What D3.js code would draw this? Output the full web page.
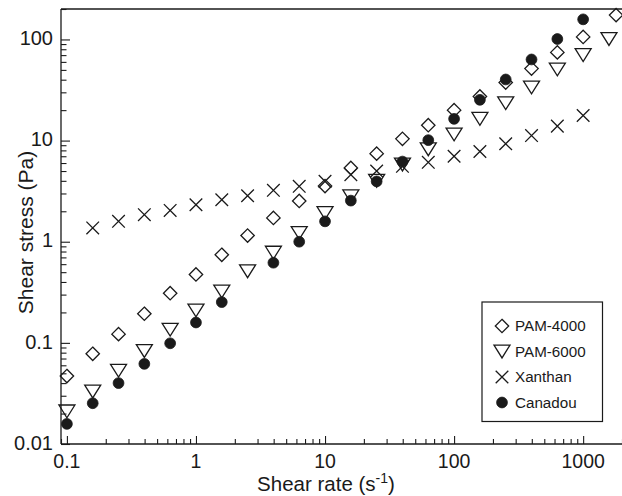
<!DOCTYPE html>
<html>
<head>
<meta charset="utf-8">
<script src="https://cdn.jsdelivr.net/npm/d3@7"></script>
<style>
  html, body { margin: 0; padding: 0; background: #fff; }
  svg { display: block; font-family: "Liberation Sans", Arial, Helvetica, sans-serif; }
</style>
</head>
<body>
<svg id="chart" width="622" height="496"></svg>
<script>
// Shear rate (1/s) and shear stress (Pa) for each fluid
const pam4000Rate   = [0.1, 0.1585, 0.2512, 0.3981, 0.631, 1, 1.585, 2.512, 3.981, 6.31, 10, 15.85, 25.12, 39.81, 63.1, 100, 158.5, 251.2, 398.1, 631, 1000, 1800];
const pam4000Stress = [0.047, 0.078, 0.122, 0.194, 0.31, 0.475, 0.743, 1.15, 1.72, 2.53, 3.55, 5.36, 7.43, 10.4, 14.2, 20.0, 27.3, 37.5, 51.5, 74.5, 106, 174];

const pam6000Rate   = [0.1, 0.1585, 0.2512, 0.3981, 0.631, 1, 1.585, 2.512, 3.981, 6.31, 10, 15.85, 25.12, 39.81, 63.1, 100, 158.5, 251.2, 398.1, 631, 1000, 1585];
const pam6000Stress = [0.021, 0.033, 0.053, 0.083, 0.135, 0.209, 0.322, 0.51, 0.78, 1.22, 1.92, 2.81, 4.0, 5.8, 8.2, 11.5, 16.4, 23.4, 33.5, 50.5, 70, 101];

const xanthanRate   = [0.1585, 0.2512, 0.3981, 0.631, 1, 1.585, 2.512, 3.981, 6.31, 10, 15.85, 25.12, 39.81, 63.1, 100, 158.5, 251.2, 398.1, 631, 1000];
const xanthanStress = [1.37, 1.59, 1.85, 2.04, 2.32, 2.6, 2.85, 3.22, 3.53, 3.95, 4.6, 5.0, 5.57, 6.1, 7.0, 7.8, 9.3, 11.2, 13.9, 17.7];

const canadouRate   = [0.1, 0.1585, 0.2512, 0.3981, 0.631, 1, 1.585, 3.981, 6.31, 10, 15.85, 25.12, 39.81, 63.1, 100, 158.5, 251.2, 398.1, 631, 1000];
const canadouStress = [0.0158, 0.0253, 0.040, 0.062, 0.099, 0.159, 0.253, 0.62, 1.0, 1.59, 2.55, 3.95, 6.2, 10.1, 16.4, 25.3, 40.2, 63.4, 101, 158];

const seriesNames = ["PAM-4000", "PAM-6000", "Xanthan", "Canadou"];
const xTickValues = [0.1, 1, 10, 100, 1000];
const xTickLabels = ["0.1", "1", "10", "100", "1000"];
const yTickValues = [0.01, 0.1, 1, 10, 100];
const yTickLabels = ["0.01", "0.1", "1", "10", "100"];

const svg = d3.select("#chart");
const plotLeft = 61, plotRight = 622, plotTop = 9, plotBottom = 444;

const x = d3.scaleLog().domain([0.09, 2000]).range([plotLeft, plotRight]);
const y = d3.scaleLog().domain([0.01, 200]).range([plotBottom, plotTop]);

const ink = "#1a1a1a";

// Marker shapes drawn around (0,0)
const shapes = {
  diamond: () => { const h = 6.7; return `M0,${-h}L${h},0L0,${h}L${-h},0Z`; },
  triangle: () => { const w = 8, hh = 6.4; return `M${-w},${-hh}L${w},${-hh}L0,${hh}Z`; },
  cross: () => { const h = 6.3; return `M${-h},${-h}L${h},${h}M${-h},${h}L${h},${-h}`; },
  circle: () => { const r = 5.4; return `M${r},0A${r},${r} 0 1 1 ${-r},0A${r},${r} 0 1 1 ${r},0Z`; }
};

const series = [
  { name: seriesNames[0], rate: pam4000Rate, stress: pam4000Stress, shape: "diamond", fill: "#fff" },
  { name: seriesNames[1], rate: pam6000Rate, stress: pam6000Stress, shape: "triangle", fill: "#fff" },
  { name: seriesNames[2], rate: xanthanRate, stress: xanthanStress, shape: "cross", fill: "none" },
  { name: seriesNames[3], rate: canadouRate, stress: canadouStress, shape: "circle", fill: ink }
];

// Frame: top edge
svg.append("line")
  .attr("x1", plotLeft).attr("x2", plotRight).attr("y1", plotTop).attr("y2", plotTop)
  .attr("stroke", ink).attr("stroke-width", 1.3);

// Minor tick values for log axes
function minorTicks(scale) {
  const [a, b] = scale.domain();
  const out = [];
  for (let e = Math.floor(Math.log10(a)); e <= Math.ceil(Math.log10(b)); e++) {
    for (let m = 2; m <= 9; m++) {
      const v = m * Math.pow(10, e);
      if (v >= a && v <= b) out.push(v);
    }
  }
  return out;
}

// X axis (ticks point inward)
const xAxisG = svg.append("g").attr("transform", `translate(0,${plotBottom})`);
xAxisG.call(d3.axisTop(x).tickValues(minorTicks(x)).tickSize(5).tickFormat(""));
xAxisG.call(g => g.append("g").call(d3.axisTop(x).tickValues(xTickValues).tickSize(8).tickFormat("")));
xAxisG.selectAll(".domain").remove();
xAxisG.selectAll("line").attr("stroke", ink).attr("stroke-width", 1.1);
xAxisG.append("line").attr("x1", plotLeft).attr("x2", plotRight).attr("stroke", ink).attr("stroke-width", 1.3);
xAxisG.selectAll("text.xl").data(xTickValues).join("text")
  .attr("class", "xl")
  .attr("x", d => x(d)).attr("y", 23.5)
  .attr("text-anchor", "middle")
  .attr("font-size", 19.5).attr("fill", ink)
  .text((d, i) => xTickLabels[i]);

// Y axis (ticks point inward)
const yAxisG = svg.append("g").attr("transform", `translate(${plotLeft},0)`);
yAxisG.call(d3.axisRight(y).tickValues(minorTicks(y)).tickSize(5.5).tickFormat(""));
yAxisG.call(g => g.append("g").call(d3.axisRight(y).tickValues(yTickValues).tickSize(9).tickFormat("")));
yAxisG.selectAll(".domain").remove();
yAxisG.selectAll("line").attr("stroke", ink).attr("stroke-width", 1.1);
yAxisG.append("line").attr("y1", plotTop).attr("y2", plotBottom).attr("stroke", ink).attr("stroke-width", 1.3);
yAxisG.selectAll("text.yl").data(yTickValues).join("text")
  .attr("class", "yl")
  .attr("x", -8).attr("y", d => y(d) - 1.5).attr("dy", "0.36em")
  .attr("text-anchor", "end")
  .attr("font-size", 20).attr("fill", ink)
  .text((d, i) => yTickLabels[i]);

// Axis titles
const xTitle = svg.append("text")
  .attr("x", 326).attr("y", 490.5)
  .attr("text-anchor", "middle")
  .attr("font-size", 20.5).attr("fill", ink);
xTitle.append("tspan").text("Shear rate (s");
xTitle.append("tspan").attr("font-size", 14).attr("dy", -8).text("-1");
xTitle.append("tspan").attr("dy", 8).text(")");

svg.append("text")
  .attr("transform", "translate(33,232.5) rotate(-90)")
  .attr("text-anchor", "middle")
  .attr("font-size", 21).attr("fill", ink)
  .text("Shear stress (Pa)");

// Data markers
const plot = svg.append("g");
series.forEach(s => {
  plot.append("g").selectAll("path")
    .data(s.rate.map((r, i) => [r, s.stress[i]]))
    .join("path")
    .attr("transform", d => `translate(${x(d[0])},${y(d[1])})`)
    .attr("d", shapes[s.shape]())
    .attr("fill", s.fill)
    .attr("fill-opacity", s.shape === "circle" ? 1 : 0)
    .attr("stroke", ink)
    .attr("stroke-width", s.shape === "circle" ? 0.8 : 1.3);
});

// Legend
const lg = svg.append("g");
lg.append("rect")
  .attr("x", 482).attr("y", 302).attr("width", 120.5).attr("height", 119.5)
  .attr("fill", "#fff").attr("stroke", ink).attr("stroke-width", 1.2);
series.forEach((s, i) => {
  const cy = 326 + i * 25.5;
  lg.append("path")
    .attr("transform", `translate(502,${cy})`)
    .attr("d", shapes[s.shape]())
    .attr("fill", s.shape === "circle" ? ink : "none")
    .attr("stroke", ink)
    .attr("stroke-width", s.shape === "circle" ? 0.8 : 1.3);
  lg.append("text")
    .attr("x", 515).attr("y", cy).attr("dy", "0.36em")
    .attr("font-size", 15.2).attr("fill", ink)
    .text(s.name);
});
</script>
</body>
</html>
